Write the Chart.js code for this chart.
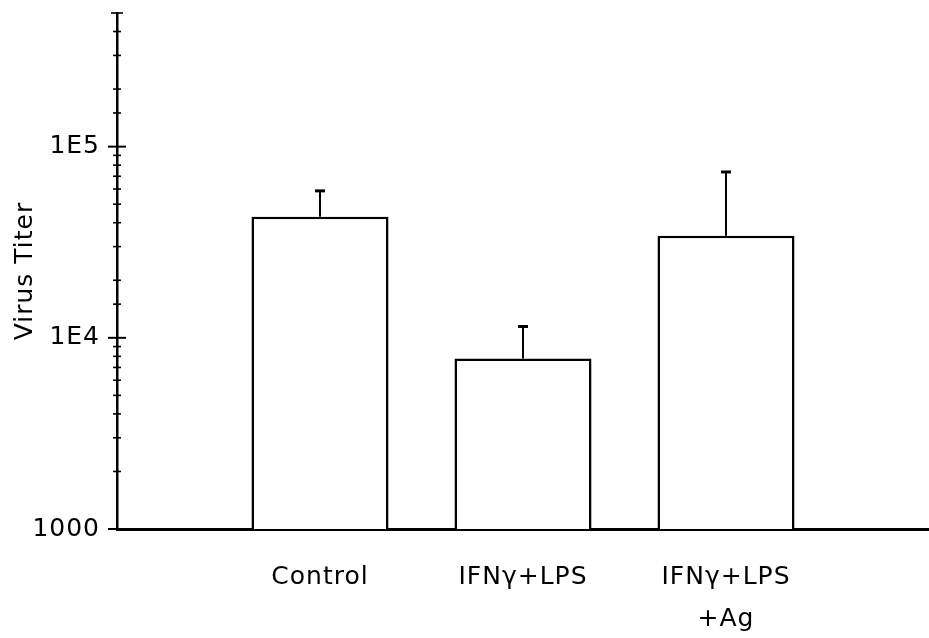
<!DOCTYPE html>
<html>
<head>
<meta charset="utf-8">
<script src="https://cdn.jsdelivr.net/npm/chart.js@4"></script>
<style>
  html, body { margin: 0; padding: 0; background: #fff; }
  #wrap { width: 929px; height: 638px; position: relative; }
</style>
</head>
<body>
<div id="wrap"><canvas id="titer-chart"></canvas></div>
<script>
// groups on the x axis (blank slots keep the empty space at both ends)
var groups = ['', 'Control', 'IFNγ+LPS', ['IFNγ+LPS', '+Ag'], ''];
// mean virus titer per group
var titer = [null, 43000, 7800, 34200, null];
// upper end of the error bar
var titerErr = [null, 59400, 11600, 74600, null];
// labelled decades on the log axis
var decadeLabels = { 1000: '1000', 10000: '1E4', 100000: '1E5' };

var fontFamily = '"DejaVu Sans", sans-serif';

// slightly spaced lettering; the context gets reset on resize so set it each pass
var spacedText = {
  id: 'spacedText',
  beforeUpdate: function (chart) { chart.ctx.letterSpacing = '1px'; },
  beforeDraw: function (chart) { chart.ctx.letterSpacing = '1px'; }
};

// axis ticks that cross the y axis line, long at decades, short otherwise
var crossTicks = {
  id: 'crossTicks',
  afterDraw: function (chart) {
    var y = chart.scales.y;
    var x0 = chart.chartArea.left;
    var ctx = chart.ctx;
    ctx.save();
    ctx.strokeStyle = '#000';
    y.ticks.forEach(function (t) {
      var py = y.getPixelForValue(t.value);
      var exp = Math.log10(t.value);
      var major = Math.abs(exp - Math.round(exp)) < 1e-9;
      var isTop = t.value === y.max;
      ctx.lineWidth = major ? 2 : 1.6;
      ctx.beginPath();
      if (major) {
        ctx.moveTo(x0 - 9, py); ctx.lineTo(x0 + 9, py);
      } else if (isTop) {
        ctx.moveTo(x0 - 6, py); ctx.lineTo(x0 + 6, py);
      } else {
        ctx.moveTo(x0 - 4, py); ctx.lineTo(x0 + 4, py);
      }
      ctx.stroke();
    });
    ctx.restore();
  }
};

// upward error bars with a short cap
var errorBars = {
  id: 'errorBars',
  afterDatasetsDraw: function (chart) {
    var meta = chart.getDatasetMeta(0);
    var y = chart.scales.y;
    var ctx = chart.ctx;
    ctx.save();
    ctx.strokeStyle = '#000';
    meta.data.forEach(function (bar, i) {
      if (titerErr[i] == null) return;
      var top = y.getPixelForValue(titerErr[i]);
      ctx.lineWidth = 2;
      ctx.beginPath();
      ctx.moveTo(bar.x, bar.y);
      ctx.lineTo(bar.x, top);
      ctx.stroke();
      ctx.lineWidth = 3;
      ctx.beginPath();
      ctx.moveTo(bar.x - 5, top + 1);
      ctx.lineTo(bar.x + 5, top + 1);
      ctx.stroke();
    });
    ctx.restore();
  }
};

new Chart(document.getElementById('titer-chart'), {
  type: 'bar',
  data: {
    labels: groups,
    datasets: [{
      data: titer,
      backgroundColor: '#fff',
      borderColor: '#000',
      borderWidth: 2.5,
      borderSkipped: 'bottom',
      categoryPercentage: 1,
      barPercentage: 0.675
    }]
  },
  options: {
    responsive: true,
    maintainAspectRatio: false,
    animation: false,
    layout: { padding: { top: 13, right: 0, left: 0, bottom: 0 } },
    plugins: {
      legend: { display: false },
      tooltip: { enabled: false }
    },
    scales: {
      x: {
        offset: false,
        afterFit: function (scale) {
          scale.height = 109;
          scale.paddingLeft = 0;
          scale.paddingRight = 0;
        },
        grid: { display: false, drawTicks: false },
        border: { display: true, color: '#000', width: 3 },
        ticks: {
          color: '#000',
          padding: 27,
          autoSkip: false,
          maxRotation: 0,
          font: { family: fontFamily, size: 25, lineHeight: 1.7 }
        }
      },
      y: {
        type: 'logarithmic',
        min: 1000,
        max: 500000,
        afterFit: function (scale) {
          scale.width = 117;
          scale.paddingTop = 0;
          scale.paddingBottom = 0;
        },
        grid: { display: false, drawTicks: false },
        border: { display: true, color: '#000', width: 2.5 },
        title: {
          display: true,
          text: 'Virus Titer',
          color: '#000',
          padding: { top: 10, bottom: 0 },
          font: { family: fontFamily, size: 25 }
        },
        ticks: {
          color: '#000',
          padding: 17,
          autoSkip: false,
          font: { family: fontFamily, size: 25 },
          callback: function (value) {
            return decadeLabels[value] || '';
          }
        }
      }
    }
  },
  plugins: [spacedText, crossTicks, errorBars]
});
</script>
</body>
</html>
